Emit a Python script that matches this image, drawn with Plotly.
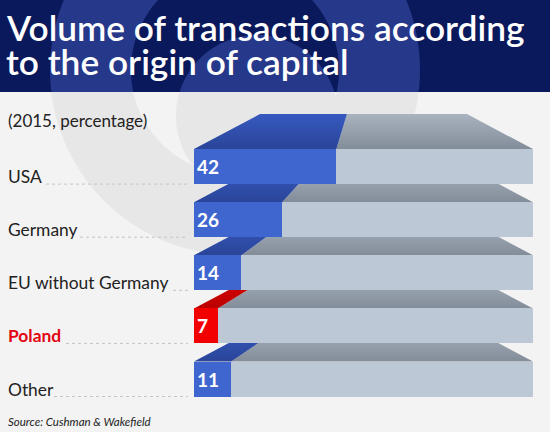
import numpy as np
import plotly.graph_objects as go

# data
categories = ["USA", "Germany", "EU without Germany", "Poland", "Other"]
values = [42, 26, 14, 7, 11]
highlight = "Poland"

title_lines = ["Volume of transactions according", "to the origin of capital"]
subtitle = "(2015, percentage)"
source = "Source: Cushman & Wakefield"

# colours
NAVY = "#0a195b"
NAVY_LIGHT = "#26388a"
BG = "#f3f3f3"
BG_RING = "#e7e7e7"
BLUE = "#3f66cf"
BLUE_TOP = ["#2a4598", "#3659c0"]
RED = "#f20000"
RED_TOP = ["#bb0000", "#dc0000"]
GREY = "#bcc8d6"
GREY_TOP = ["#838c99", "#a9b3bf"]
FONT = "Lato"

W, H = 550, 432
# pixel layout of the drawing (front face of bar spans 194..533 px)
X0, SX = 194, 3.39          # px at 0 %, px per %
Y0, SY = 166.6, 53.1        # px of first row centre, px per row
BAR_H = 35 / SY
DEPTH = 35 / SY
BACK_X0 = (260 - 194) / SX  # back edge of top face at 0 %
BACK_K = 207 / 339          # back edge shrink
leader_start = [46, 80, 173, 66, 54]  # px where the dotted leader starts


def dx(p):
    return (p - X0) / SX


def dy(p):
    return (p - Y0) / SY


def back(x):
    return BACK_X0 + BACK_K * x


fig = go.Figure()

# top faces of the bars (scatter polygons)
for i, (cat, v) in enumerate(zip(categories, values)):
    yf = i - BAR_H / 2
    yb = yf - DEPTH
    top_cols = RED_TOP if cat == highlight else BLUE_TOP
    fig.add_trace(go.Scatter(
        x=[v, 100, back(100), back(v), v], y=[yf, yf, yb, yb, yf],
        mode="lines", line=dict(width=0), fill="toself",
        fillgradient=dict(type="vertical", colorscale=[[0, GREY_TOP[0]], [1, GREY_TOP[1]]]),
        hoverinfo="skip", showlegend=False, zorder=0))
    fig.add_trace(go.Scatter(
        x=[0, v, back(v), back(0), 0], y=[yf, yf, yb, yb, yf],
        mode="lines", line=dict(width=0), fill="toself",
        fillgradient=dict(type="vertical", colorscale=[[0, top_cols[0]], [1, top_cols[1]]]),
        hoverinfo="skip", showlegend=False, zorder=0))

rows = list(range(len(categories)))
front_cols = [RED if c == highlight else BLUE for c in categories]

# front faces
fig.add_trace(go.Bar(
    orientation="h", y=rows, x=[100 - v for v in values], base=values,
    width=BAR_H, marker=dict(color=GREY, line=dict(width=0)),
    hoverinfo="skip", showlegend=False, zorder=1))
fig.add_trace(go.Bar(
    orientation="h", y=rows, x=values, base=0,
    width=BAR_H, marker=dict(color=front_cols, line=dict(width=0)),
    text=[str(v) for v in values], textposition="inside", insidetextanchor="start",
    textangle=0, constraintext="none",
    textfont=dict(family=FONT, size=19, color="white", weight="bold"),
    hoverinfo="skip", showlegend=False, zorder=1))


# background watermark
def circle_path(cx, cy, r, above, cut=92):
    t = np.linspace(0, 2 * np.pi, 241)
    x = cx + r * np.sin(t)
    y = cy + r * np.cos(t) if above else cy - r * np.cos(t)
    keep = (y <= cut) if above else (y >= cut)
    idx = np.where(keep)[0]
    if len(idx) == 0:
        return None
    if len(idx) < len(t):
        idx = np.concatenate([[idx[0] - 1], idx, [idx[-1] + 1]])
    xs = x[idx]
    ys = np.minimum(y[idx], cut) if above else np.maximum(y[idx], cut)
    pts = [f"{a / W:.4f},{1 - b / H:.4f}" for a, b in zip(xs, ys)]
    return "M " + " L ".join(pts) + " Z"


shapes = [
    dict(type="rect", xref="paper", yref="paper", x0=0, x1=1, y0=1 - 92 / H, y1=1,
         fillcolor=NAVY, line=dict(width=0), layer="below"),
]
rings = [(235, 70, 185), (235, 70, 104), (257, 116, 81)]
for above, cols in [(True, [NAVY_LIGHT, NAVY, NAVY_LIGHT]), (False, [BG_RING, BG, BG_RING])]:
    for (cx, cy, r), col in zip(rings, cols):
        p = circle_path(cx, cy, r, above)
        if p:
            shapes.append(dict(type="path", xref="paper", yref="paper", path=p,
                               fillcolor=col, line=dict(width=0), layer="below"))

# dotted leaders under the labels
for i, s in enumerate(leader_start):
    yl = i + BAR_H / 2
    shapes.append(dict(type="line", xref="x", yref="y", x0=dx(s), x1=dx(188), y0=yl, y1=yl,
                       line=dict(color="#c4c4c4", width=1, dash="dot"), layer="below"))

annotations = []
for i, line in enumerate(title_lines):
    annotations.append(dict(
        text=line, xref="x", yref="y", x=dx(4), y=dy([27, 61][i]),
        xanchor="left", yanchor="middle", showarrow=False,
        font=dict(family=FONT, size=35.3, color="white", weight=600)))
annotations.append(dict(
    text=subtitle, xref="x", yref="y", x=dx(6), y=dy(120),
    xanchor="left", yanchor="middle", showarrow=False,
    font=dict(family=FONT, size=17, color="#222222")))
for i, cat in enumerate(categories):
    is_hl = cat == highlight
    annotations.append(dict(
        text=cat, xref="x", yref="y", x=dx(6), y=i + BAR_H / 2 + 5 / SY,
        xanchor="left", yanchor="bottom", showarrow=False,
        font=dict(family=FONT, size=17.4, color="#e30613" if is_hl else "#222222",
                  weight="bold" if is_hl else "normal")))
annotations.append(dict(
    text=source, xref="x", yref="y", x=dx(6), y=dy(421),
    xanchor="left", yanchor="middle", showarrow=False,
    font=dict(family=FONT, size=11.5, color="#222222", style="italic")))

fig.update_layout(
    width=W, height=H, margin=dict(l=0, r=0, t=0, b=0),
    paper_bgcolor=BG, plot_bgcolor=BG, barmode="overlay", bargap=0,
    xaxis=dict(range=[dx(0), dx(W)], visible=False, fixedrange=True),
    yaxis=dict(range=[dy(H), dy(0)], visible=False, fixedrange=True),
    shapes=shapes, annotations=annotations, showlegend=False,
)

fig.write_html("out.html", config={"displayModeBar": False},
               post_script="document.body.style.margin='0';")
